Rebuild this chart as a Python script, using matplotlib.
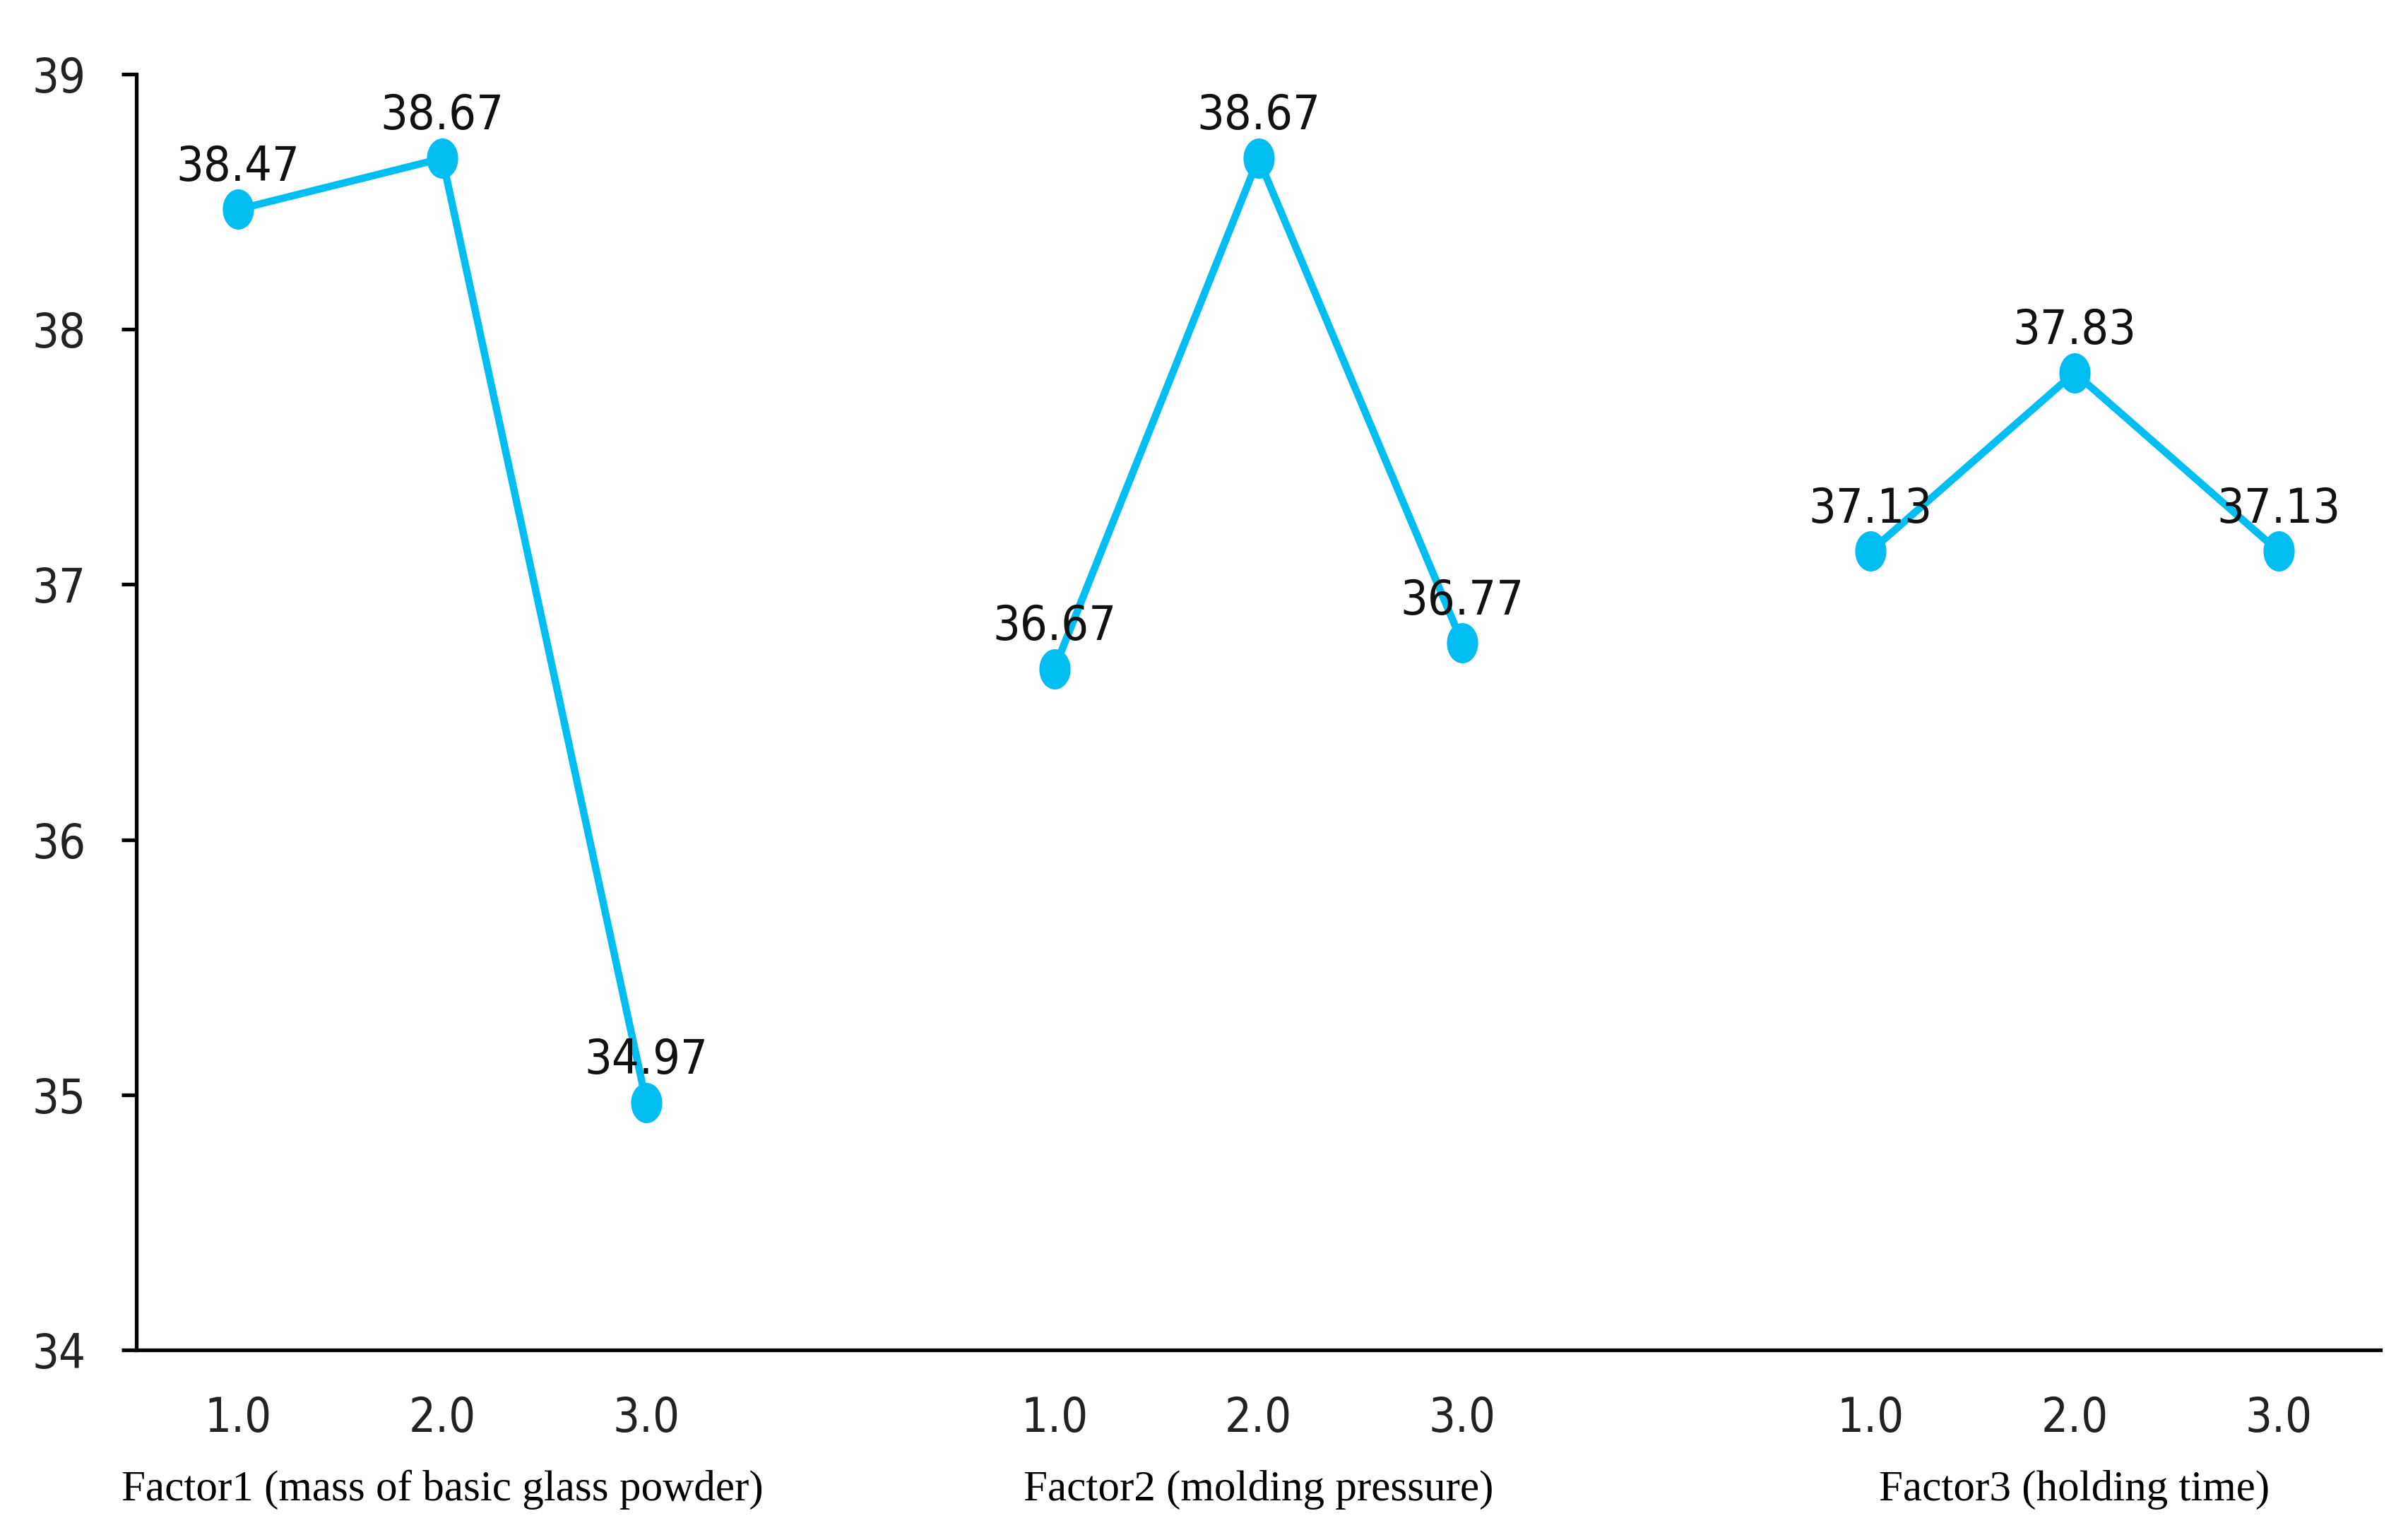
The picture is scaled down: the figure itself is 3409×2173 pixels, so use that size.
import numpy as np
import matplotlib
matplotlib.use("Agg")
import matplotlib.pyplot as plt
from matplotlib.path import Path
from matplotlib.transforms import blended_transform_factory

# ---- data ----
factors = ["Factor1 (mass of basic glass powder)",
           "Factor2 (molding pressure)",
           "Factor3 (holding time)"]
levels = ["1.0", "2.0", "3.0"]
factor1 = [38.47, 38.67, 34.97]
factor2 = [36.67, 38.67, 36.77]
factor3 = [37.13, 37.83, 37.13]
y_ticks = [34, 35, 36, 37, 38, 39]

series = [factor1, factor2, factor3]

# ---- style ----
COLOR = "#00BDF2"
SANS = ["Liberation Sans Narrow", "DejaVu Sans"]
SERIF = ["Liberation Serif", "DejaVu Serif"]
STRETCH = "condensed"

fig = plt.figure(figsize=(34.09, 21.73), dpi=100)
ax = fig.add_axes([0.0566, 0.1206, 0.932, 0.8311])

# ellipse marker (taller than wide)
t = np.linspace(0, 2 * np.pi, 80)
ell = Path(np.column_stack([0.77 * np.cos(t), np.sin(t)]), closed=True)

xticks, xlabels = [], []
for g, vals in enumerate(series):
    xs = [4 * g + i for i in range(len(vals))]
    ax.plot(xs, vals, color=COLOR, lw=7.5, marker=ell, markersize=40,
            markerfacecolor=COLOR, markeredgecolor=COLOR, solid_capstyle="round")
    for x, v in zip(xs, vals):
        ax.annotate(f"{v:.2f}", (x, v), xytext=(0, 43), textcoords="offset points",
                    ha="center", va="center", fontsize=49, family=SANS,
                    fontstretch=STRETCH, color="#111111")
    xticks += xs
    xlabels += levels

ax.set_xlim(-0.5, 10.5)
ax.set_ylim(34, 39)
ax.set_yticks(y_ticks)
ax.set_yticklabels([str(v) for v in y_ticks], family=SANS, fontstretch=STRETCH, fontsize=48)
ax.set_xticks(xticks)
ax.set_xticklabels(xlabels, family=SANS, fontstretch=STRETCH, fontsize=48)

for s in ["top", "right"]:
    ax.spines[s].set_visible(False)
for s in ["left", "bottom"]:
    ax.spines[s].set_linewidth(3.8)
    ax.spines[s].set_color("black")

ax.tick_params(axis="y", length=15, width=3.8, pad=36, colors="black", labelcolor="#222222")
ax.tick_params(axis="x", length=0, pad=46, labelcolor="#222222")

trans = blended_transform_factory(ax.transData, fig.transFigure)
for g, name in enumerate(factors):
    ax.text(4 * g + 1, 0.0225, name, transform=trans, ha="center", va="baseline",
            fontsize=44, family=SERIF, color="black")

fig.savefig("out.png", dpi=100, facecolor="white")
